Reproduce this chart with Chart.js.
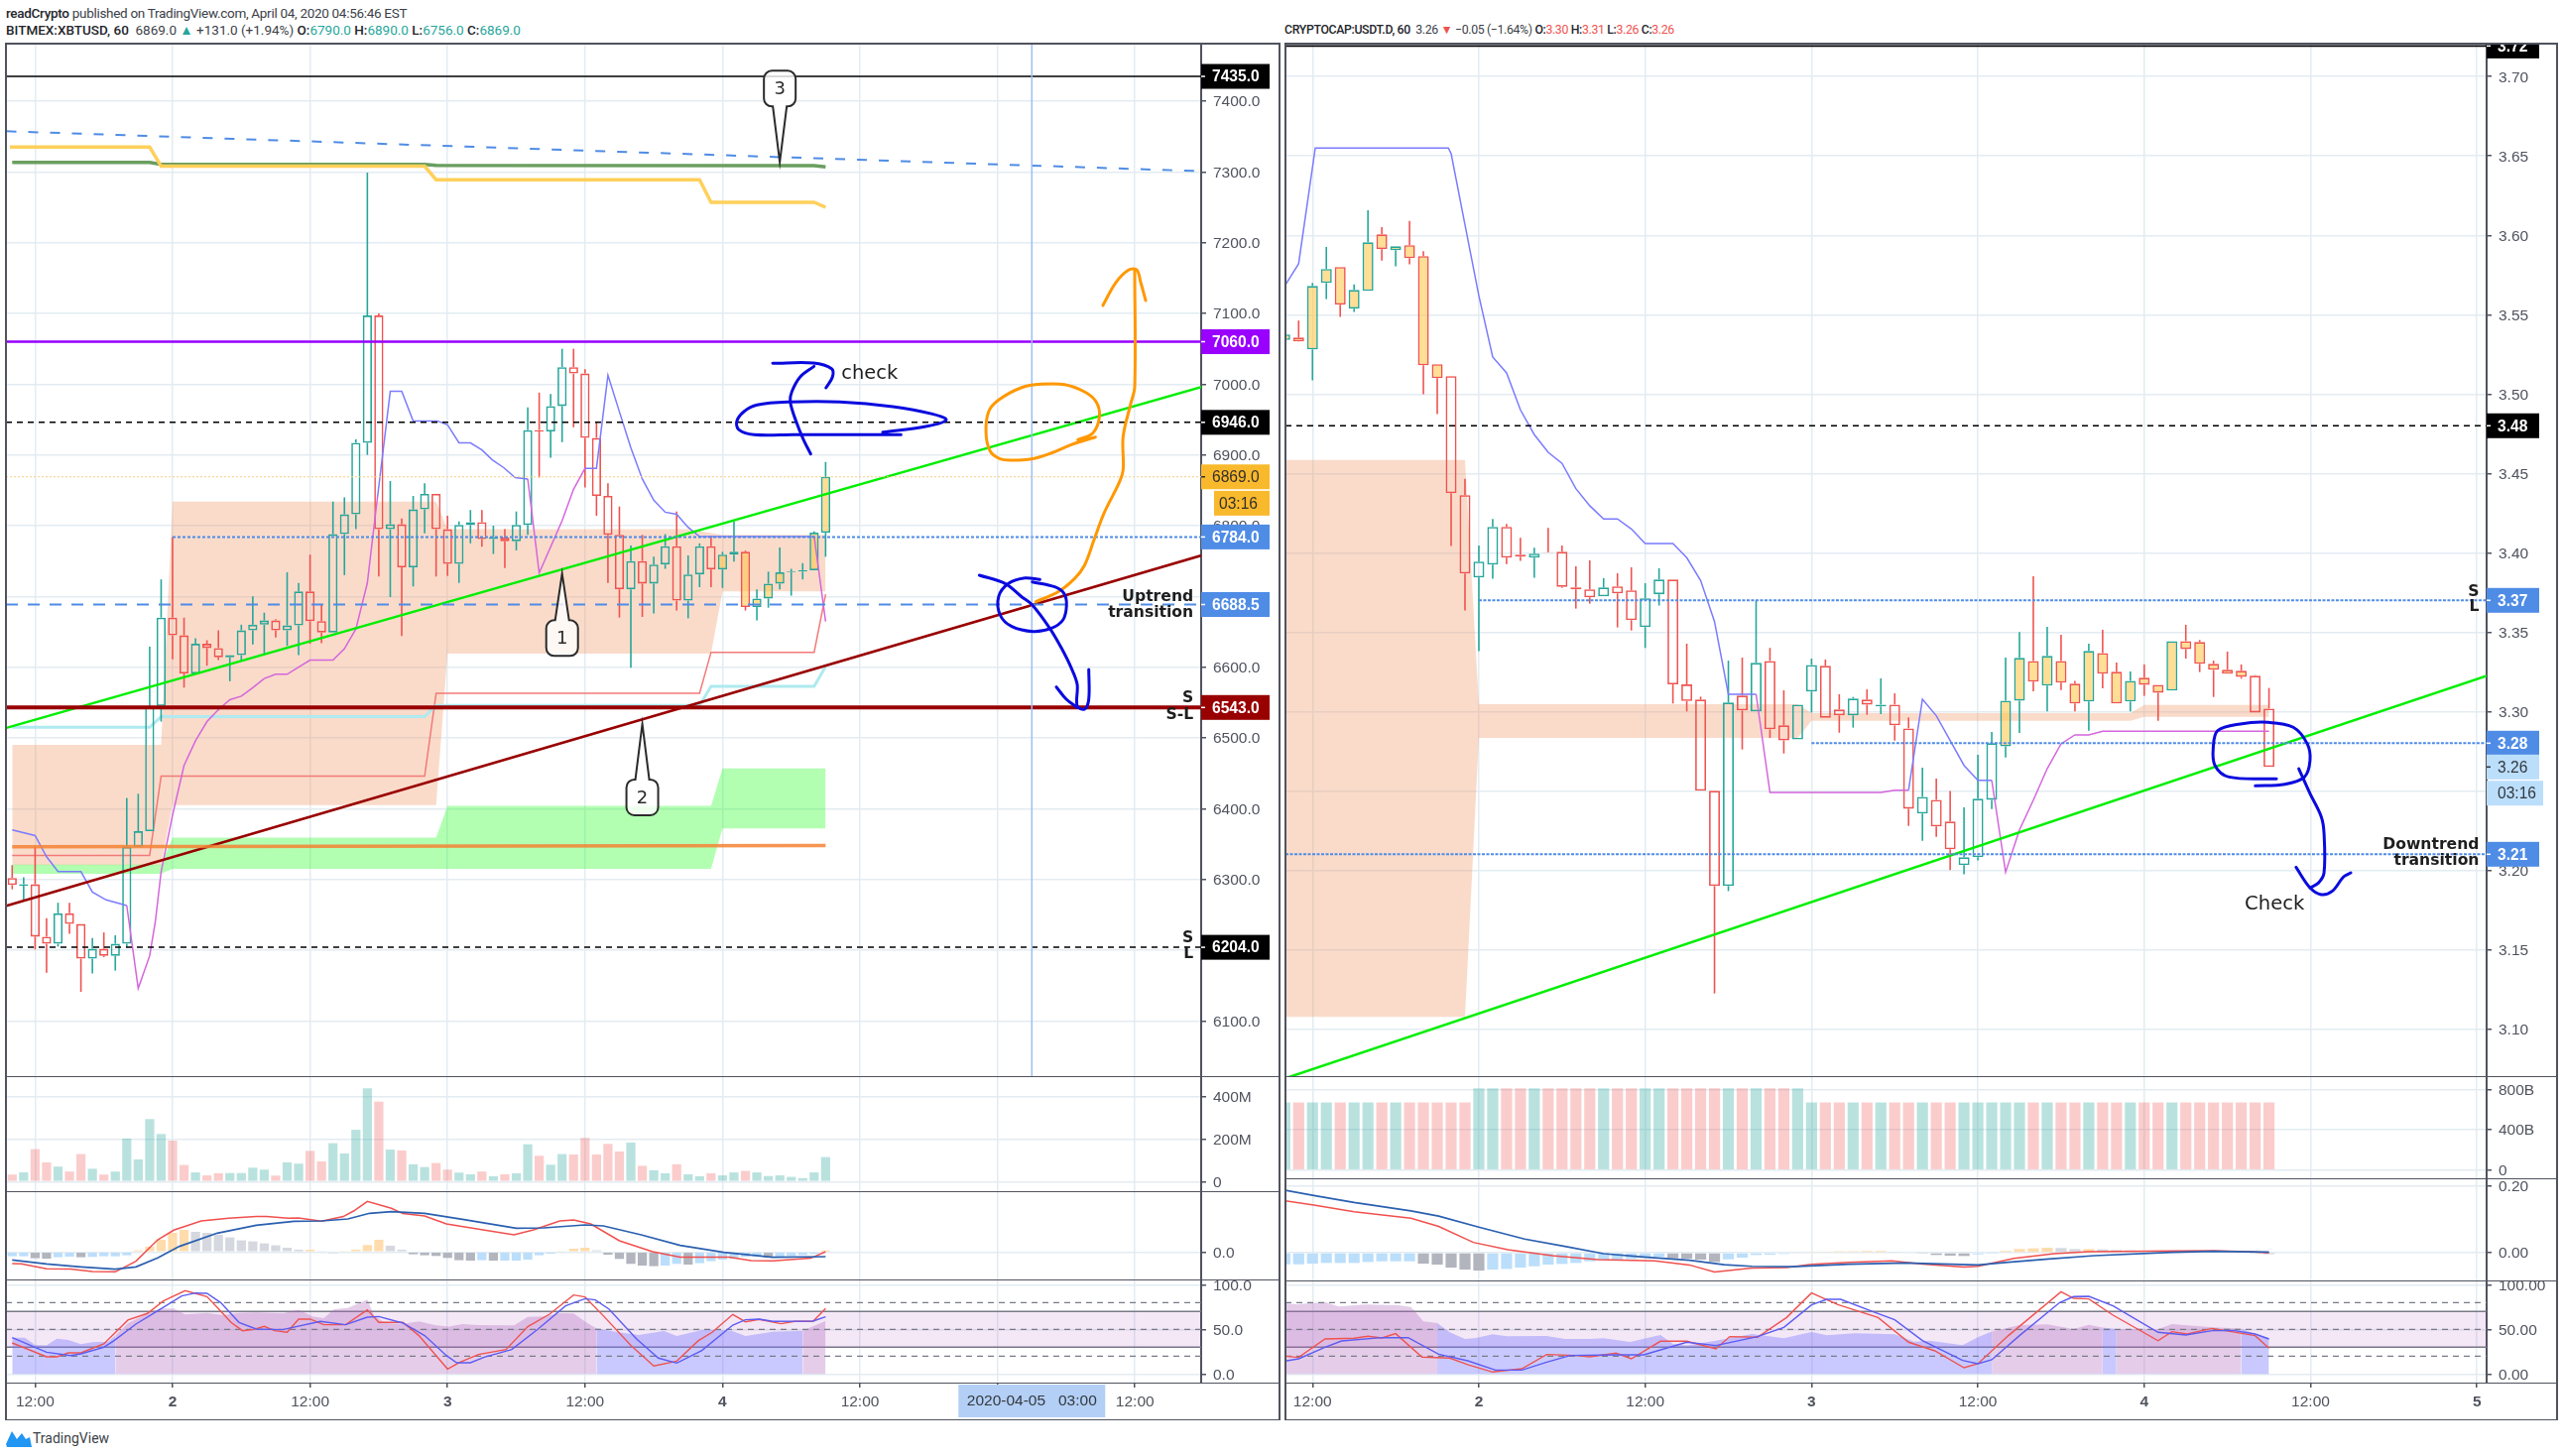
<!DOCTYPE html>
<html>
<head>
<meta charset="utf-8">
<title>XBTUSD / USDT.D</title>
<script src="https://cdn.jsdelivr.net/npm/chart.js@4/dist/chart.umd.min.js"></script>
<style>
html, body { margin: 0; background: #fff; width: 2584px; height: 1468px; overflow: hidden; }
canvas { position: absolute; display: block; }
.rule { position: absolute; background: #50535e; z-index: 5; }
.head { position: absolute; font: 13.5px Roboto, sans-serif; color: #3c3f48; white-space: pre; line-height: 18px; }
.head b { color: #24262c; font-weight: 500; }
.up { color: #26a69a; }
.down { color: #ef5350; }
#brand { position: absolute; left: 6px; top: 1440px; font: 14px Roboto, sans-serif; color: #3c3f48; }
#brand svg { position: absolute; left: 0; top: 0; }
#brand span { position: absolute; left: 27px; top: 0; line-height: 20px; }
</style>
</head>
<body>
<div class="head" style="left:6px;top:4px;letter-spacing:-0.3px"><b>readCrypto</b> published on TradingView.com, April 04, 2020 04:56:46 EST</div>
<div class="head" style="left:6px;top:21px"><b>BITMEX:XBTUSD, 60</b>  6869.0 <span class="up">▲</span> +131.0 (+1.94%) <b>O:</b><span class="up">6790.0</span> <b>H:</b><span class="up">6890.0</span> <b>L:</b><span class="up">6756.0</span> <b>C:</b><span class="up">6869.0</span></div>
<div class="head" style="left:1295px;top:21px;font-size:12.3px;letter-spacing:-0.35px"><b>CRYPTOCAP:USDT.D, 60</b>  3.26 <span class="down">▼</span> −0.05 (−1.64%) <b>O:</b><span class="down">3.30</span> <b>H:</b><span class="down">3.31</span> <b>L:</b><span class="down">3.26</span> <b>C:</b><span class="down">3.26</span></div>
<div id="brand"><svg width="26" height="20" viewBox="0 0 26 20"><path d="M0 16 L6 3 L11 11 L16 5 L20 11 L24 9 L26 19 L1 19 Z" fill="#2196f3"/></svg><span>TradingView</span></div>

<script>
// Time axis
const timeBars = [2, 14, 26, 38, 50, 62, 74, 86, 98];
const timeLabelsL = ['12:00', '2', '12:00', '3', '12:00', '4', '12:00', '', '12:00'];
const timeLabelsR = ['12:00', '2', '12:00', '3', '12:00', '4', '12:00', '5'];

// XBTUSD candles
const openL = [6302,6291,6293,6219,6209,6252,6237,6188,6202,6192,6209,6346,6368,6545,6670,6645,6591,6633,6627,6614,6617,6652,6660,6666,6652,6659,6707,6665,6649,6788,6816,6917,7097,6795,6802,6741,6823,6845,6795,6746,6801,6805,6781,6783,6778,6801,6935,6933,6969,7024,7015,6924,6842,6787,6710,6750,6718,6745,6771,6694,6731,6771,6738,6759,6763,6685,6697,6718,6734,6735,6737,6790];
const highL = [6320,6303,6346,6245,6267,6267,6237,6217,6225,6221,6415,6421,6629,6724,6784,6670,6641,6638,6652,6617,6660,6700,6677,6668,6734,6719,6759,6688,6834,6840,6922,7299,7100,6863,6810,6842,6860,6845,6814,6806,6822,6822,6800,6795,6820,6967,6988,6986,7050,7050,7021,6947,6860,6827,6772,6787,6756,6788,6820,6758,6775,6786,6763,6806,6765,6710,6735,6769,6739,6747,6792,6890];
const lowL = [6286,6271,6201,6168,6205,6223,6141,6167,6190,6171,6204,6346,6368,6523,6611,6571,6590,6602,6610,6580,6609,6632,6619,6642,6630,6617,6633,6634,6649,6730,6795,6900,6728,6699,6644,6714,6789,6728,6729,6719,6775,6770,6760,6740,6765,6787,6868,6896,6918,6939,6854,6814,6719,6670,6599,6671,6676,6739,6680,6669,6713,6713,6712,6749,6680,6666,6684,6710,6701,6724,6737,6756];
const closeL = [6292,6293,6219,6209,6252,6237,6188,6202,6192,6209,6346,6368,6543,6670,6645,6591,6633,6627,6614,6617,6652,6660,6666,6652,6659,6707,6665,6649,6788,6816,6917,7097,6795,6802,6741,6823,6845,6795,6746,6801,6805,6781,6784,6778,6801,6935,6933,6969,7024,7015,6924,6842,6787,6710,6750,6718,6745,6771,6694,6731,6771,6738,6759,6763,6685,6697,6718,6734,6735,6737,6790,6869];
const paintedL = [62,63,64,65,66,67,68,69,70,71];

// USDT.D candles
const openR = [3.534,3.5356,3.5281,3.57,3.58,3.5538,3.565,3.6006,3.5906,3.5938,3.5869,3.5188,3.5113,3.4363,3.3844,3.3925,3.4163,3.3988,3.3969,3.4004,3.4006,3.3781,3.3769,3.3725,3.3788,3.3763,3.3531,3.3738,3.3831,3.317,3.3075,3.25,3.19,3.31,3.3,3.3318,3.2912,3.2823,3.3125,3.3287,3.3012,3.2975,3.3075,3.3031,3.3043,3.2893,3.2356,3.2443,3.2306,3.2031,3.2081,3.2443,3.278,3.3068,3.3318,3.3162,3.3318,3.3175,3.3062,3.3368,3.325,3.3062,3.3212,3.3168,3.3131,3.3443,3.3437,3.33,3.3262,3.3256,3.3225,3.3018];
const highR = [3.5375,3.5463,3.57,3.5927,3.58,3.569,3.6158,3.6052,3.5931,3.609,3.59,3.5188,3.5113,3.4465,3.4046,3.4213,3.4181,3.4094,3.4031,3.4156,3.4046,3.3915,3.3952,3.384,3.3871,3.3908,3.3808,3.3902,3.3831,3.3427,3.3093,3.25,3.332,3.3339,3.37,3.34,3.3133,3.3043,3.3333,3.3327,3.3108,3.3091,3.3139,3.3208,3.3114,3.2962,3.2646,3.2577,3.2498,3.2396,3.2727,3.287,3.3339,3.35,3.3852,3.3533,3.3483,3.3193,3.3427,3.3514,3.3308,3.3252,3.3296,3.3168,3.3443,3.3546,3.345,3.332,3.3377,3.3296,3.3229,3.3148];
const lowR = [3.534,3.533,3.5086,3.5598,3.5486,3.5517,3.565,3.584,3.5804,3.5817,3.4998,3.4873,3.4042,3.3636,3.338,3.3836,3.3929,3.3948,3.3842,3.4,3.3779,3.3648,3.3679,3.3725,3.3529,3.351,3.34,3.3667,3.305,3.3,3.25,3.1223,3.1868,3.276,3.3,3.2833,3.2735,3.2823,3.2993,3.296,3.2866,3.2898,3.2979,3.2983,3.2816,3.2279,3.2185,3.221,3.2,3.1973,3.2062,3.2385,3.271,3.2864,3.3127,3.3,3.3135,3.3,3.2879,3.3146,3.305,3.3,3.3098,3.2941,3.3131,3.3333,3.3248,3.3091,3.3237,3.3206,3.2993,3.265];
const closeR = [3.5375,3.5331,3.5681,3.5788,3.5563,3.5656,3.5956,3.5913,3.5931,3.5856,3.5181,3.51,3.4375,3.3869,3.3944,3.4163,3.3969,3.3975,3.3994,3.4,3.3785,3.3769,3.3719,3.3781,3.3744,3.3575,3.3713,3.3831,3.317,3.3066,3.25,3.19,3.3056,3.3006,3.3306,3.2887,3.2818,3.3043,3.3293,3.296,3.2975,3.3081,3.3043,3.3043,3.2912,3.2387,3.2462,3.2275,3.2131,3.2081,3.245,3.28,3.3068,3.3337,3.3187,3.335,3.3181,3.305,3.3381,3.3237,3.305,3.3193,3.3168,3.3118,3.3443,3.3393,3.33,3.3262,3.3237,3.3218,3.2993,3.265];
const paintedR = [0,1,2,3,4,5,6,7,8,9,10,11,52,53,54,55,56,57,58,59,60,61,62,63,64,65,66,67,68,69];

// Volume, in millions / billions
const volumeL = [33,43,152,90,70,47,129,60,33,47,202,104,293,223,192,78,43,29,39,40,40,65,56,28,90,84,144,95,180,132,243,437,375,150,146,81,68,87,56,42,34,47,25,34,39,175,121,79,129,127,205,127,177,141,183,74,53,39,81,34,25,39,29,43,50,43,26,29,22,16,43,115];
const volumeR = [670,670,670,670,670,670,670,670,670,670,670,670,670,670,810,810,810,810,810,810,810,810,810,810,810,810,810,810,810,810,810,810,810,810,810,810,810,810,670,670,670,670,670,670,670,670,670,670,670,670,670,670,670,670,670,670,670,670,670,670,670,670,670,670,670,670,670,670,670,670,670,670];

// MACD
const histL = [-4.3,-4.3,-6.3,-6.7,-5.3,-4.7,-5.3,-5,-4.3,-4.3,-3.3,1.7,5.3,12.3,19.3,22.3,20.3,19.3,17.3,14.7,11.7,10.7,8.7,6.7,4.3,2.3,2.3,1,-1,1,2.3,7,12.3,6.3,2.3,-2.3,-3.3,-4,-6,-8.3,-8.7,-8.3,-8.7,-8.7,-8.7,-7.7,-3.3,-1.7,1,3.3,4.3,1.7,-2.7,-7,-12,-13.7,-14.3,-13.7,-12,-12.7,-11.3,-9.3,-7.7,-7,-5,-4.3,-5.7,-5.3,-4,-3,-2,1.7];
const macdSignalL = [[0,-8],[3,-12],[6,-15],[9,-17.3],[10.8,-15],[12.7,-6],[14.6,5.7],[17.9,19],[21.3,27],[24.6,31],[27,31.3],[29.3,33.3],[31.2,39],[33.1,40.7],[36,39],[39.3,33],[44,24],[46.4,24.3],[50,27.3],[51.6,26.3],[54.9,17.3],[58.3,6.7],[62.1,-0.3],[66.4,-5.3],[71,-4.7]];
const macdLineL = [[0,-11.7],[0.8,-12],[3,-17],[5.1,-17.3],[7,-19.7],[9,-20],[10.8,-9.3],[12.7,12.3],[14.1,22],[16.5,31.3],[18.9,34],[21.3,35.7],[22.2,35.7],[24.1,34],[25,34.3],[27,31],[28.9,35.7],[29.8,41.3],[31,51],[33.1,44],[34.1,38.7],[36,36.3],[37.9,28.3],[40.7,23],[43.8,17.3],[45.5,22.3],[47.8,31.3],[49,32.3],[50.5,28.3],[53,11.3],[55.9,0.3],[58.3,-5.3],[62.6,-5.3],[64.5,-8.7],[66.4,-9],[69.7,-6.3],[71,0.3]];
const histR = [-0.035,-0.035,-0.033,-0.031,-0.031,-0.031,-0.028,-0.026,-0.026,-0.026,-0.033,-0.036,-0.045,-0.051,-0.054,-0.051,-0.049,-0.045,-0.041,-0.036,-0.034,-0.031,-0.026,-0.023,-0.021,-0.019,-0.016,-0.013,-0.017,-0.018,-0.021,-0.028,-0.02,-0.015,-0.007,-0.006,-0.004,-0.002,0.003,0.003,0.004,0.004,0.005,0.005,0.003,0,-0.003,-0.007,-0.009,-0.01,-0.005,-0.001,0.005,0.011,0.013,0.015,0.014,0.011,0.011,0.01,0.008,0.007,0.006,0.005,0.004,0.003,0.002,0.001,0.002,0.001,-0.001,-0.004];
const macdSignalR = [[0,0.188],[2.1,0.172],[5,0.151],[9.1,0.126],[11.1,0.11],[14,0.077],[17.3,0.041],[20.2,0.019],[23,-0.003],[25.9,-0.013],[29.2,-0.023],[31.7,-0.036],[33.7,-0.041],[36.6,-0.042],[40.7,-0.035],[44.8,-0.031],[50,-0.037],[52.2,-0.029],[55.1,-0.019],[58.4,-0.009],[64,0.001],[67,0.004],[71,0.002]];
const macdLineR = [[0,0.156],[2.1,0.143],[5,0.123],[9.1,0.104],[11.1,0.079],[13.6,0.031],[16.1,0.009],[19.3,-0.009],[22.6,-0.021],[26.7,-0.025],[29.2,-0.037],[31,-0.058],[33.7,-0.046],[36.2,-0.045],[38,-0.035],[40.7,-0.029],[43.8,-0.025],[46,-0.034],[49,-0.043],[50,-0.041],[52.6,-0.017],[55.5,-0.003],[58,0.003],[64,0.005],[67,0.006],[70,0.002],[71,-0.001]];

// RSI and stochastic pane
const rsiBlueRangesL = [[0,9],[51,69]];
const rsiPurpleRangesL = [[9,51],[69,71]];
const rsiL = [[0,40.7],[1.1,40.7],[2,32.6],[3,31.9],[3.9,39.6],[4.9,38.1],[6,33.3],[7,35.6],[8.4,36.3],[9,43],[10.1,56.7],[11.8,67.8],[12.9,73.3],[14.1,73.3],[15.1,66.7],[17,68.5],[18.4,65.9],[19.8,68.5],[21.3,68.9],[23.6,67.8],[25,71.9],[26.2,64.4],[27.2,62.6],[28.1,72.6],[29.3,74],[31,83.3],[31.6,65.2],[32.6,57],[34.1,56.3],[35.5,58.9],[36.9,54.8],[38.1,53],[39.3,55.9],[40.7,54.8],[43.8,54.4],[45,64],[46.4,64.4],[47.8,68.1],[49,67.8],[50.2,57],[51,51.1],[52.6,47.4],[54.7,43.7],[56.9,48.1],[58,42.6],[60.2,49.3],[61.6,49.6],[62.8,48.5],[64,42.6],[66.4,47.4],[69,48.5],[71,59.6]];
const stochKL = [[0,34.8],[3,19.3],[3.9,19.3],[4.9,23.7],[6,23.7],[8,33.7],[10.1,60.4],[11.8,67.8],[13.2,81.9],[15.1,93.3],[17,86.7],[17.9,74.4],[19.1,57.8],[20.1,48.5],[21,49.6],[22,53.3],[22.9,48.5],[24,46.7],[25,61.5],[26,61.5],[27.2,55.2],[29.1,55.2],[31,71.9],[32,57.8],[34.1,57.8],[35.5,43],[38,5.6],[39.1,13.3],[40.7,21.9],[43.1,27.4],[45,53],[46.9,67],[49,88.5],[50,86.3],[51.6,65.2],[54,31.9],[56,8.9],[58,14.4],[59.9,37.4],[61.1,46.7],[62.9,66.7],[64,58.5],[65.2,61.1],[67.1,56.3],[68.3,58.9],[69.9,58.9],[71,73.3]];
const stochDL = [[0,40.7],[3,24.4],[5.1,20.7],[6,22.6],[8,30],[8.9,37.4],[10.8,55.9],[12.7,70.7],[14.8,87.4],[16,90.7],[17,90.4],[18.2,80],[19.8,57.8],[21.3,50.4],[23.6,49.6],[26.9,58.9],[29.1,55.2],[31,63.7],[32,64.4],[34.1,57],[36,43],[37.9,20.7],[38.8,12.6],[40,12.6],[41.2,18.9],[43.6,27.4],[45.9,50.4],[48.3,76.3],[50,84.4],[50.9,83],[52.1,72.6],[54.5,39.3],[56.4,17.8],[58,12.2],[60.2,26.3],[62.9,54.8],[64,60.7],[65.2,61.5],[66.4,58.9],[69.9,59.3],[71,64.1]];
const rsiBlueRangesR = [[11,51],[59,60],[69,71]];
const rsiPurpleRangesR = [[0,11],[51,59],[60,69]];
const rsiR = [[0,79.3],[0.9,78.1],[2.9,80.7],[3.9,75.6],[5.8,77.8],[8.2,77],[9.1,75.2],[10,58.9],[11,57],[11.9,46.7],[13,39.3],[13.8,40.4],[15,44.4],[16,42.2],[18.9,42.6],[20.2,39.3],[22,39.3],[23,40],[24.9,35.9],[27.1,43.7],[28,33.7],[29,31.9],[31.1,37.4],[33.7,44.8],[36,40],[38,47],[39.1,43.3],[41.1,45.6],[44,44.4],[45.4,36.3],[46.5,37.4],[48.9,32.2],[50,41.1],[51,47.5],[53,54.8],[55,55.6],[56.9,50.4],[58,55.2],[59,52],[60,50.4],[61.8,50.5],[63,50.3],[64,55.9],[67,52.2],[69,51],[70,44.8],[71,40]];
const stochKR = [[0,20],[1,18.5],[2.9,39.3],[5,40],[6,42.2],[7,40.4],[8,45.2],[9.9,18.9],[11.9,17.8],[13.2,10.4],[15,2.2],[17.1,5.9],[18.9,21.9],[21,20.7],[22,19.3],[23.9,23.3],[25,17],[27.1,36.7],[29,36.7],[31.1,28.1],[32.1,41.9],[34.1,41.1],[36.2,63.3],[38,90.7],[39.9,77.8],[42.8,63.3],[45,35.6],[46.9,25.9],[49,7],[50,11.5],[52.2,43],[56,92.2],[56.9,84.8],[58,84.1],[59.75,65.9],[63,37.3],[64,47.4],[65.1,44.8],[66.9,51],[70,43],[71,28.9]];
const stochDR = [[0,14.4],[1,17],[2.9,30],[4.1,37],[7,40.7],[8.9,40.7],[11.1,22.2],[13.2,14.8],[15.2,4.4],[17.1,4.4],[18.9,13.3],[20.6,20.7],[23.9,21.5],[25.9,21.5],[29,35.6],[31.1,31.9],[34.1,41.9],[36,52.2],[38,77.4],[39.1,83.7],[40.1,83.7],[42.6,68.9],[44,60.7],[46,37.4],[48.9,15.2],[50,11.5],[51,15.9],[53,43],[55.9,80],[56.9,86.7],[58,87],[59.75,76.3],[63,46.7],[65,43.7],[66.9,48.5],[68.4,48.8],[70,44.8],[71,39.2]];

// Overlays on the XBTUSD price pane, as [bar, price]
const emberTopL = [[0,6490],[13,6490],[14,6834],[37,6834],[38,6795],[59,6795],[62,6787],[71,6787]];
const emberBottomL = [[0,6320],[13,6320],[14,6405],[37,6405],[38,6619],[61,6619],[62,6707],[71,6707]];
const cloudTopL = [[0,6321],[13,6321],[14,6359],[37,6359],[38,6404],[61,6404],[62,6457],[71,6457]];
const cloudBottomL = [[0,6308],[13,6308],[14,6315],[61,6315],[62,6372],[71,6372]];
const yellowStepL = [[-0.2,7335],[12,7335],[13,7308],[36,7308],[37,7289],[60,7289],[61,7257],[70,7257],[71,7250]];
const greenStepL = [[0,7313.5],[12,7313.5],[13,7310.7],[36,7310.7],[37,7309.3],[70,7309],[71,7307]];
const aquaStepL = [[0,6515],[12,6515],[13,6530],[36,6530],[37,6546],[60,6546],[61,6573],[70,6573],[71,6601]];
const redStepL = [[0,6334],[12,6334],[13,6446],[36,6446],[37,6563],[60,6563],[61,6621],[70,6621],[71,6703]];
const orangeFlatL = [[0,6346],[71,6348]];
const bandBlueL = [
    [[0,6370],[2,6362],[3,6332],[4,6311],[6,6311],[7,6282],[8.2,6271],[10,6263]],
    [[31.9,6842],[33,6990],[34,6990],[35,6948],[37.1,6948],[38,6942.5],[39,6917],[40,6917],[41,6907],[41.9,6893],[42.9,6882],[43.9,6868],[45,6866]],
    [[50,6881],[51,6881],[52,7012.6],[53,6961],[54,6910],[55,6866],[56,6836],[57,6819],[58,6816],[59,6797.6],[60,6784.6],[70,6784.6]]
];
const bandPinkL = [
    [[10,6263],[11,6146],[12,6192],[12.5,6241],[13,6311],[14,6391],[15,6461],[16,6496],[17,6523],[18,6540],[19,6554],[20,6559],[21,6571],[22,6584],[23,6590],[24,6590],[25,6600],[26,6610],[28,6610],[29,6626],[30,6654],[31,6719],[31.5,6788],[31.9,6842]],
    [[45,6866],[46,6733],[48,6807],[49,6851.4],[50,6881]],
    [[70,6784.6],[71,6664.4]]
];
const slopeBlueL = [[-0.5,7357.5],[103.8,7301]];
const slopeGreenL = [[-0.5,6514.2],[103.8,6996]];
const slopeRedL = [[-0.5,6262.6],[103.8,6757.9]];
const crosshairBar = 89;

// Hand drawn marks on the XBTUSD pane, as [bar, price]
const inkBlueL = [
    [[66.38,7029.4],[69.93,7029.9],[71.52,7021.9],[71.6,7010.2],[71.03,6994.8]],
    [[69.99,7025.2],[68.78,7010.2],[68.05,6989.2],[67.91,6975.2],[68.43,6947.1],[69.06,6921.9],[69.7,6901.3]],
    [[77.58,6928.5],[73.39,6928.5],[68.2,6928.5],[64.74,6928.5],[63.44,6935.5],[63.24,6947.1],[63.87,6961.2],[65.02,6970.6],[67.91,6974.8],[72.24,6974.8],[76.86,6968.2],[80.32,6957.9],[81.53,6949.5],[79.74,6940.1],[75.99,6932.1]],
    [[84.42,6729.9],[86.67,6718.2],[88.11,6699.4],[89.04,6687.8],[90.56,6655.1],[91.58,6627.1],[92.44,6599],[92.96,6575.6],[92.96,6545.2],[93.6,6540.6],[93.97,6554.6],[93.97,6596.7]],
    [[89.7,6723.8],[88.4,6726],[86.96,6718.2],[86.1,6699.4],[86.23,6673.8],[87.25,6657.4],[89.13,6650.4],[90.71,6655.1],[91.72,6666.8],[92.03,6687.8],[91.81,6704.2],[91,6713.5],[89.04,6720.5]],
    [[91.14,6571.9],[92.01,6554.6],[92.96,6543]]
];
const inkOrangeL = [
    [[93.02,6921.5],[94.32,6930.7],[94.9,6954.2],[94.61,6975.2],[93.6,6989.2],[91.86,6999.4],[89.84,7000],[88.11,6995.2],[86.1,6977.6],[85.23,6961.2],[85,6930.7],[85.37,6905.1],[86.23,6894.3],[87.25,6892.5],[88.98,6894.3],[90.71,6902.7],[92.44,6914.5],[94.55,6925.1]],
    [[89.35,6692.4],[91.29,6706.4],[92.73,6725.2],[93.6,6743.9],[94.46,6781.3],[95.33,6818.6],[96.62,6860.7],[96.97,6879.4],[96.97,6926.1],[97.64,6972.8],[97.98,6996.2],[97.98,7162]],
    [[95.2,7111.2],[96.32,7143.4],[97.47,7161.6],[98.16,7161.6],[98.51,7143.4],[98.94,7118.2]]
];

// Overlays on the USDT.D price pane
const emberTopR = [[0,3.4584],[13,3.4584],[14,3.3046],[37,3.3046],[38,3.2989],[61,3.2989],[62,3.3041],[71,3.3041]];
const emberBottomR = [[0,3.1075],[13,3.1075],[14,3.2833],[37,3.2833],[38,3.2941],[61,3.2941],[62,3.2966],[71,3.2966]];
const bandBlueR = [
    [[0,3.5681],[1,3.5821],[2.2,3.655],[11.8,3.655],[12,3.6515],[13,3.6067],[14,3.5619],[15,3.5233],[16,3.5133],[17,3.49],[18,3.4744],[19,3.4633],[20,3.4563],[21,3.4404],[22,3.4296],[23,3.4213],[24,3.4213],[25,3.415],[26,3.4058],[28,3.4058],[29,3.3969],[30,3.3825],[31,3.3566],[32,3.3108],[34,3.3108]],
    [[45,3.2504],[46,3.3077],[47,3.2973],[48,3.2816],[49,3.266],[50,3.2566],[51,3.2566]]
];
const bandPinkR = [
    [[34,3.3108],[35,3.2489],[43,3.2489],[44,3.2504],[45,3.2504]],
    [[51,3.2566],[52,3.1987],[53,3.2254],[54,3.2441],[55,3.2639],[56,3.2796],[57,3.2852],[58,3.2852],[59,3.2875],[71,3.2875]]
];
const slopeGreenR = [[0.1,3.069],[86.7,3.3224]];
const inkBlueR = [
    [[71.54,3.2575],[68.11,3.2587],[67.1,3.266],[66.98,3.2775],[67.3,3.2879],[68.92,3.2921],[70.93,3.2931],[72.75,3.29],[73.76,3.2796],[73.96,3.2691],[73.56,3.2587],[72.14,3.2541],[70.01,3.2531]],
    [[73.15,3.2639],[73.96,3.2483],[74.77,3.2337],[74.97,3.2233],[74.97,3.1983],[74.57,3.192],[73.96,3.1889]],
    [[72.95,3.2018],[73.96,3.1889],[74.77,3.1846],[75.57,3.1868],[76.38,3.1958],[76.9,3.1983]]
];

// Axis ticks
const priceTicksL = [7400,7300,7200,7100,7000,6900,6800,6700,6600,6500,6400,6300,6200,6100];
const priceTicksR = [3.7,3.65,3.6,3.55,3.5,3.45,3.4,3.35,3.3,3.25,3.2,3.15,3.1];
const volumeTicksL = [0,200,400];
const volumeTicksR = [0,400,800];

// Axis tags and notes
const tagsL = [
    { at: 7435, text: '7435.0', bg: '#000000', fg: '#ffffff' },
    { at: 7060, text: '7060.0', bg: '#9900ff', fg: '#ffffff' },
    { at: 6946, text: '6946.0', bg: '#000000', fg: '#ffffff' },
    { at: 6869, text: '6869.0', bg: '#f9b92d', fg: '#33302a' },
    { at: 6831.7, text: '03:16', bg: '#f9b92d', fg: '#33302a', inset: 13 },
    { at: 6784, text: '6784.0', bg: '#4f8ce6', fg: '#ffffff' },
    { at: 6688.5, text: '6688.5', bg: '#4f8ce6', fg: '#ffffff' },
    { at: 6543, text: '6543.0', bg: '#990000', fg: '#ffffff' },
    { at: 6204, text: '6204.0', bg: '#000000', fg: '#ffffff' }
];
const tagsR = [
    { at: 3.7193, text: '3.72', bg: '#000000', fg: '#ffffff' },
    { at: 3.48, text: '3.48', bg: '#000000', fg: '#ffffff' },
    { at: 3.37, text: '3.37', bg: '#4f8ce6', fg: '#ffffff' },
    { at: 3.28, text: '3.28', bg: '#4f8ce6', fg: '#ffffff' },
    { at: 3.265, text: '3.26', bg: '#bbdefb', fg: '#33383f' },
    { at: 3.2485, text: '03:16', bg: '#bbdefb', fg: '#33383f', wide: 4 },
    { at: 3.21, text: '3.21', bg: '#4f8ce6', fg: '#ffffff' }
];
const labelFontBold = 'bold 15.6px "DejaVu Sans"';
const notesL = [
    { x: 74.84, y: 7015, text: 'check', font: '19.4px "DejaVu Sans"', align: 'center' },
    { x: 103.1, y: 6699.4, text: 'Uptrend', font: labelFontBold, align: 'right' },
    { x: 103.1, y: 6677, text: 'transition', font: labelFontBold, align: 'right' },
    { x: 103.1, y: 6556, text: 'S', font: labelFontBold, align: 'right' },
    { x: 103.1, y: 6532.6, text: 'S-L', font: labelFontBold, align: 'right' },
    { x: 103.1, y: 6216.7, text: 'S', font: labelFontBold, align: 'right' },
    { x: 103.1, y: 6194, text: 'L', font: labelFontBold, align: 'right' }
];
const notesR = [
    { x: 71.4, y: 3.1783, text: 'Check', font: '19.6px "DejaVu Sans"', align: 'center' },
    { x: 86.16, y: 3.3754, text: 'S', font: labelFontBold, align: 'right' },
    { x: 86.16, y: 3.3658, text: 'L', font: labelFontBold, align: 'right' },
    { x: 86.16, y: 3.2158, text: 'Downtrend', font: labelFontBold, align: 'right' },
    { x: 86.16, y: 3.2058, text: 'transition', font: labelFontBold, align: 'right' }
];
const calloutsL = [
    { x: 48, y: 6732.2, text: '1', dir: 1, gap: 47 },
    { x: 55, y: 6519.6, text: '2', dir: 1, gap: 56 },
    { x: 67, y: 7314, text: '3', dir: -1, gap: 56 }
];

// Colours
const teal = '#26a69a';
const red = '#ef5350';
const tickFont = '"Liberation Sans", Arial, sans-serif';
const gridColor = '#e3ecf2';
const axisColor = '#50535e';

const toPoints = (pairs) => pairs.map(([x, y]) => ({ x, y }));

const line = (pairs, color, width, extra) => Object.assign({
    type: 'line',
    data: toPoints(pairs),
    borderColor: color,
    backgroundColor: 'transparent',
    borderWidth: width,
    pointRadius: 0,
    tension: 0,
    fill: false,
    order: 3
}, extra);

const hline = (value, from, to, color, width, extra) => line([[from, value], [to, value]], color, width, extra);

const band = (top, bottom, color, order) => [
    line(top, 'transparent', 0, { fill: '+1', backgroundColor: color, order }),
    line(bottom, 'transparent', 0, { order })
];

const ink = (pairs, color) => line(pairs, color, 3, { tension: 0.35, order: 1, borderCapStyle: 'round', borderJoinStyle: 'round' });

// Candles are floating bars: an upper wick, a lower wick and the body
const candles = (o, h, l, c, bodyWidth, painted) => {
    const bars = o.map((_, i) => i);
    const colors = bars.map(i => c[i] >= o[i] ? teal : red);
    const fills = bars.map(i => painted.includes(i) ? 'rgba(255,200,80,0.6)' : 'transparent');
    const common = { type: 'bar', grouped: false, barPercentage: 1, order: 5 };
    return [
        Object.assign({}, common, {
            data: bars.map(i => ({ x: i, y: [Math.max(o[i], c[i]), h[i]] })),
            backgroundColor: colors, maxBarThickness: 1.6
        }),
        Object.assign({}, common, {
            data: bars.map(i => ({ x: i, y: [l[i], Math.min(o[i], c[i])] })),
            backgroundColor: colors, maxBarThickness: 1.6
        }),
        Object.assign({}, common, {
            data: bars.map(i => ({ x: i, y: [o[i], c[i]] })),
            backgroundColor: fills, borderColor: colors, borderWidth: 1.6,
            borderSkipped: false, maxBarThickness: bodyWidth
        })
    ];
};

const volumeSet = (values, o, c, width) => ({
    type: 'bar',
    grouped: false,
    barPercentage: 1,
    maxBarThickness: width,
    data: values.map((y, x) => ({ x, y })),
    backgroundColor: values.map((_, i) => c[i] >= o[i] ? 'rgba(38,166,154,0.32)' : 'rgba(239,83,80,0.29)')
});

const histSet = (values, width) => ({
    type: 'bar',
    grouped: false,
    barPercentage: 1,
    maxBarThickness: width,
    order: 4,
    data: values.map((y, x) => ({ x, y })),
    backgroundColor: values.map((v, i) => {
        const prev = i ? values[i - 1] : v;
        if (v >= 0) return v >= prev ? '#ffdcac' : '#d6d8e0';
        return v < prev ? '#b2b5be' : '#bbdefb';
    })
});

const rsiSets = (rsi, ranges, color) => ranges.map(([a, b]) =>
    line(rsi.filter(p => p[0] >= a && p[0] <= b), 'transparent', 0, { fill: { value: 0 }, backgroundColor: color, order: 8 }));

const rsiGuides = (xMin, xMax) => [
    hline(70, xMin, xMax, '#787b86', 1.5, { fill: '+1', backgroundColor: 'rgba(156,39,176,0.11)', order: 9 }),
    hline(30, xMin, xMax, '#787b86', 1.5, { order: 9 }),
    hline(80, xMin, xMax, '#787b86', 1.3, { borderDash: [6, 5], order: 7 }),
    hline(50, xMin, xMax, '#787b86', 1.3, { borderDash: [6, 5], order: 7 }),
    hline(20, xMin, xMax, '#787b86', 1.3, { borderDash: [6, 5], order: 7 })
];

const drawTag = (ctx, chart, tag, yScale) => {
    const area = chart.chartArea;
    const y = yScale.getPixelForValue(tag.at);
    const left = area.right + (tag.inset || 0);
    const tagRight = chart.canvas.dataset.side === 'L' ? area.right + 69 : area.right + 53 + (tag.wide || 0);
    ctx.fillStyle = tag.bg;
    ctx.fillRect(left, y - 12.5, tagRight - left, 25);
    ctx.fillStyle = tag.fg;
    ctx.textAlign = 'left';
    ctx.textBaseline = 'middle';
    ctx.font = (tag.fg === '#ffffff' ? 'bold ' : '') + '15.6px ' + tickFont;
    ctx.fillText(tag.text, area.right + (tag.inset ? 18 : 11), y + 1);
    if (!tag.inset && !tag.wide) {
        ctx.strokeStyle = tag.fg;
        ctx.lineWidth = 1.5;
        ctx.beginPath();
        ctx.moveTo(area.right, y);
        ctx.lineTo(area.right + 4, y);
        ctx.stroke();
    }
};

const drawCallout = (ctx, tipX, tipY, text, dir, gap) => {
    const w = 32, h = 36, r = 8;
    const top = dir > 0 ? tipY + gap : tipY - gap - h;
    const edge = dir > 0 ? top : top + h;
    ctx.beginPath();
    ctx.moveTo(tipX, tipY);
    ctx.lineTo(tipX + 7 , edge);
    if (dir > 0) {
        ctx.arcTo(tipX + w / 2, top, tipX + w / 2, top + h, r);
        ctx.arcTo(tipX + w / 2, top + h, tipX - w / 2, top + h, r);
        ctx.arcTo(tipX - w / 2, top + h, tipX - w / 2, top, r);
        ctx.arcTo(tipX - w / 2, top, tipX - 7, top, r);
    } else {
        ctx.arcTo(tipX + w / 2, top + h, tipX + w / 2, top, r);
        ctx.arcTo(tipX + w / 2, top, tipX - w / 2, top, r);
        ctx.arcTo(tipX - w / 2, top, tipX - w / 2, top + h, r);
        ctx.arcTo(tipX - w / 2, top + h, tipX - 7, top + h, r);
    }
    ctx.lineTo(tipX - 7, edge);
    ctx.closePath();
    ctx.fillStyle = 'rgba(255,255,255,0.8)';
    ctx.fill();
    ctx.strokeStyle = '#2b2b2b';
    ctx.lineWidth = 2;
    ctx.stroke();
    ctx.fillStyle = '#2b2b2b';
    ctx.font = '18px "DejaVu Sans"';
    ctx.textAlign = 'center';
    ctx.textBaseline = 'middle';
    ctx.fillText(text, tipX, top + h / 2 + 1);
};

// One chart per pane, stacked with absolute positions
const pane = (cfg) => {
    const canvas = document.createElement('canvas');
    canvas.width = cfg.width;
    canvas.height = cfg.height;
    canvas.dataset.side = cfg.side;
    canvas.style.left = cfg.left + 'px';
    canvas.style.top = cfg.top + 'px';
    document.body.appendChild(canvas);

    const overlay = {
        id: 'overlay',
        afterDraw(chart) {
            const ctx = chart.ctx;
            const xs = chart.scales.x;
            const ys = chart.scales.y;
            ctx.save();
            (cfg.notes || []).forEach(n => {
                ctx.fillStyle = '#1e1e1e';
                ctx.font = n.font;
                ctx.textAlign = n.align;
                ctx.textBaseline = 'middle';
                ctx.fillText(n.text, xs.getPixelForValue(n.x), ys.getPixelForValue(n.y));
            });
            (cfg.callouts || []).forEach(c => drawCallout(ctx, xs.getPixelForValue(c.x), ys.getPixelForValue(c.y), c.text, c.dir, c.gap));
            (cfg.tags || []).forEach(t => drawTag(ctx, chart, t, ys));
            if (cfg.crosshairLabel) {
                const cx = xs.getPixelForValue(crosshairBar);
                ctx.fillStyle = '#b3cff5';
                ctx.fillRect(cx - 74, chart.chartArea.bottom + 2, 148, 33);
                ctx.fillStyle = '#33383f';
                ctx.font = '15.5px ' + tickFont;
                ctx.textAlign = 'center';
                ctx.textBaseline = 'middle';
                ctx.fillText(cfg.crosshairLabel, cx, chart.chartArea.bottom + 19);
            }
            ctx.restore();
        }
    };

    return new Chart(canvas, {
        data: { datasets: cfg.datasets },
        plugins: [overlay],
        options: {
            responsive: false,
            animation: false,
            devicePixelRatio: 1,
            events: [],
            layout: { padding: 0 },
            plugins: { legend: { display: false }, tooltip: { enabled: false } },
            scales: {
                x: {
                    type: 'linear',
                    offset: false,
                    bounds: 'data',
                    min: cfg.xMin,
                    max: cfg.xMax,
                    afterBuildTicks: (s) => { s.ticks = timeBars.filter(v => v <= cfg.xMax).map(value => ({ value })); },
                    afterFit: (s) => { s.height = cfg.axisHeight || 0; s.paddingLeft = 0; s.paddingRight = 0; },
                    border: { display: false },
                    grid: { offset: false, color: gridColor, lineWidth: 1.5, drawTicks: !!cfg.timeLabels, tickColor: axisColor, tickLength: 5 },
                    ticks: {
                        display: !!cfg.timeLabels,
                        autoSkip: false,
                        maxRotation: 0,
                        padding: 5,
                        color: '#50535e',
                        font: (ctx) => ({ family: tickFont, size: 15.5, weight: ctx.tick && /^\d$/.test(ctx.tick.label) ? 'bold' : 'normal' }),
                        callback: (v) => cfg.timeLabels ? cfg.timeLabels[timeBars.indexOf(v)] : ''
                    }
                },
                y: {
                    type: 'linear',
                    position: 'right',
                    bounds: 'data',
                    min: cfg.yMin,
                    max: cfg.yMax,
                    afterBuildTicks: (s) => { s.ticks = cfg.yTicks.map(value => ({ value })); },
                    afterFit: (s) => { s.width = cfg.axisWidth; s.paddingTop = 0; s.paddingBottom = 0; },
                    border: { display: true, color: axisColor, width: 2 },
                    grid: { color: gridColor, lineWidth: 1.5, tickColor: axisColor, tickLength: 5 },
                    ticks: {
                        autoSkip: false,
                        padding: 7,
                        labelOffset: 1,
                        color: '#50535e',
                        font: { family: tickFont, size: 15.5 },
                        callback: cfg.yFormat
                    }
                }
            }
        }
    });
};

// Left side, XBTUSD
const xL = { side: 'L', left: 6, width: 1283, axisWidth: 78, xMin: -0.545, xMax: 103.78 };
const xMinL = xL.xMin, xMaxL = xL.xMax;

pane(Object.assign({}, xL, {
    top: 43, height: 1042, yMin: 6021.9, yMax: 7482.7,
    yTicks: priceTicksL, yFormat: (v) => v.toFixed(1),
    tags: tagsL, notes: notesL, callouts: calloutsL,
    datasets: [
        ...band(emberTopL, emberBottomL, 'rgba(240,150,100,0.34)', 12),
        ...band(cloudTopL, cloudBottomL, 'rgba(0,255,0,0.3)', 11),
        line(yellowStepL, '#ffd05a', 3.5, { order: 6 }),
        line(greenStepL, '#6a9e5f', 3.5, { order: 6 }),
        line(aquaStepL, '#aeeaef', 3, { order: 6 }),
        line(redStepL, '#f27a78', 1.5, { order: 6 }),
        ...bandBlueL.map(p => line(p, '#7b7bff', 1.5, { order: 4 })),
        ...bandPinkL.map(p => line(p, '#d466dc', 1.5, { order: 4 })),
        ...candles(openL, highL, lowL, closeL, 9.6, paintedL),
        line(orangeFlatL, 'rgba(245,130,50,0.85)', 3.5, { order: 3 }),
        line(slopeBlueL, '#4f8ce6', 2, { borderDash: [10, 12] }),
        hline(7435, xMinL, xMaxL, '#000000', 1.6),
        hline(7060, xMinL, xMaxL, '#9900ff', 2.5),
        hline(6946, xMinL, xMaxL, '#000000', 1.5, { borderDash: [6, 5] }),
        hline(6869, xMinL, xMaxL, '#f7ce86', 1, { borderDash: [2, 2] }),
        hline(6784, 14, xMaxL, '#4f8ce6', 2, { borderDash: [3, 2] }),
        hline(6688.5, xMinL, xMaxL, '#4f8ce6', 2, { borderDash: [12, 10] }),
        hline(6543, xMinL, xMaxL, '#990000', 4),
        hline(6204, xMinL, xMaxL, '#000000', 1.5, { borderDash: [6, 5] }),
        line(slopeGreenL, '#00ee00', 2.5),
        line(slopeRedL, '#990000', 2.5),
        line([[crosshairBar, 6021.9], [crosshairBar, 7482.7]], '#9cc0f7', 1.5, { order: 2 }),
        ...inkBlueL.map(p => ink(p, '#0a0adf')),
        ...inkOrangeL.map(p => ink(p, '#ff9800'))
    ]
}));

pane(Object.assign({}, xL, {
    top: 1085, height: 116, yMin: -45.1, yMax: 494.4,
    yTicks: volumeTicksL, yFormat: (v) => v ? v + 'M' : '0',
    datasets: [volumeSet(volumeL, openL, closeL, 10.5)]
}));

pane(Object.assign({}, xL, {
    top: 1201, height: 89, yMin: -27.7, yMax: 61.3,
    yTicks: [0], yFormat: (v) => v.toFixed(1),
    datasets: [
        histSet(histL, 10.5),
        line(macdSignalL, '#2a5fb0', 1.7),
        line(macdLineL, '#f0504e', 1.5)
    ]
}));

pane(Object.assign({}, xL, {
    top: 1290, height: 141, axisHeight: 37, yMin: -9.67, yMax: 105.9,
    yTicks: [0, 50, 100], yFormat: (v) => v.toFixed(1),
    timeLabels: timeLabelsL, crosshairLabel: '2020-04-05   03:00',
    datasets: [
        ...rsiGuides(xMinL, xMaxL),
        ...rsiSets(rsiL, rsiBlueRangesL, 'rgba(120,120,255,0.4)'),
        ...rsiSets(rsiL, rsiPurpleRangesL, 'rgba(175,100,190,0.32)'),
        line(stochDL, '#5c5cf2', 1.4),
        line(stochKL, '#ef5350', 1.4)
    ]
}));

// Right side, USDT.D
const xR = { side: 'R', left: 1296, width: 1281, axisWidth: 70, xMin: 0.05, xMax: 86.7 };
const xMinR = xR.xMin, xMaxR = xR.xMax;

pane(Object.assign({}, xR, {
    top: 43, height: 1042, yMin: 3.0702, yMax: 3.7214,
    yTicks: priceTicksR, yFormat: (v) => v.toFixed(2),
    tags: tagsR, notes: notesR,
    datasets: [
        ...band(emberTopR, emberBottomR, 'rgba(240,150,100,0.34)', 12),
        ...bandBlueR.map(p => line(p, '#7b7bff', 1.5, { order: 4 })),
        ...bandPinkR.map(p => line(p, '#d466dc', 1.5, { order: 4 })),
        ...candles(openR, highR, lowR, closeR, 11, paintedR),
        hline(3.7193, xMinR, xMaxR, '#000000', 1.6),
        hline(3.48, xMinR, xMaxR, '#000000', 1.5, { borderDash: [6, 5] }),
        hline(3.37, 14, xMaxR, '#4f8ce6', 2, { borderDash: [3, 1.5] }),
        hline(3.28, 38, xMaxR, '#4f8ce6', 2, { borderDash: [3, 1.5] }),
        hline(3.21, xMinR, xMaxR, '#4f8ce6', 2, { borderDash: [3, 1.5] }),
        line(slopeGreenR, '#00ee00', 2.5),
        ...inkBlueR.map(p => ink(p, '#0a0adf'))
    ]
}));

pane(Object.assign({}, xR, {
    top: 1085, height: 103, yMin: -81.6, yMax: 930.7,
    yTicks: volumeTicksR, yFormat: (v) => v ? v + 'B' : '0',
    datasets: [volumeSet(volumeR, openR, closeR, 13)]
}));

pane(Object.assign({}, xR, {
    top: 1188, height: 103, yMin: -0.0836, yMax: 0.2239,
    yTicks: [0, 0.2], yFormat: (v) => v.toFixed(2),
    datasets: [
        histSet(histR, 13),
        line(macdSignalR, '#2a5fb0', 1.7),
        line(macdLineR, '#f0504e', 1.5)
    ]
}));

pane(Object.assign({}, xR, {
    top: 1291, height: 140, axisHeight: 37, yMin: -9.67, yMax: 104.8,
    yTicks: [0, 50, 100], yFormat: (v) => v.toFixed(2),
    timeLabels: timeLabelsR,
    datasets: [
        ...rsiGuides(xMinR, xMaxR),
        ...rsiSets(rsiR, rsiBlueRangesR, 'rgba(120,120,255,0.4)'),
        ...rsiSets(rsiR, rsiPurpleRangesR, 'rgba(175,100,190,0.32)'),
        line(stochDR, '#5c5cf2', 1.4),
        line(stochKR, '#ef5350', 1.4)
    ]
}));

// Frames and pane separators
const rule = (x, y, w, h) => {
    const el = document.createElement('div');
    el.className = 'rule';
    el.style.cssText = `left:${x}px;top:${y}px;width:${w}px;height:${h}px`;
    document.body.appendChild(el);
};
[[5, 1289], [1295, 2577]].forEach(([a, b]) => {
    rule(a, 43, b - a + 1, 1.5);
    rule(a, 1430.5, b - a + 1, 1.5);
    rule(a, 43, 1.5, 1389);
    rule(b, 43, 1.5, 1389);
    rule(a, 1084.5, b - a + 1, 1.5);
    rule(a, 1393.5, b - a + 1, 1.5);
});
rule(5, 1200.5, 1285, 1.5);
rule(5, 1289.5, 1285, 1.5);
rule(1295, 1187.5, 1283, 1.5);
rule(1295, 1290.5, 1283, 1.5);
</script>
</body>
</html>
